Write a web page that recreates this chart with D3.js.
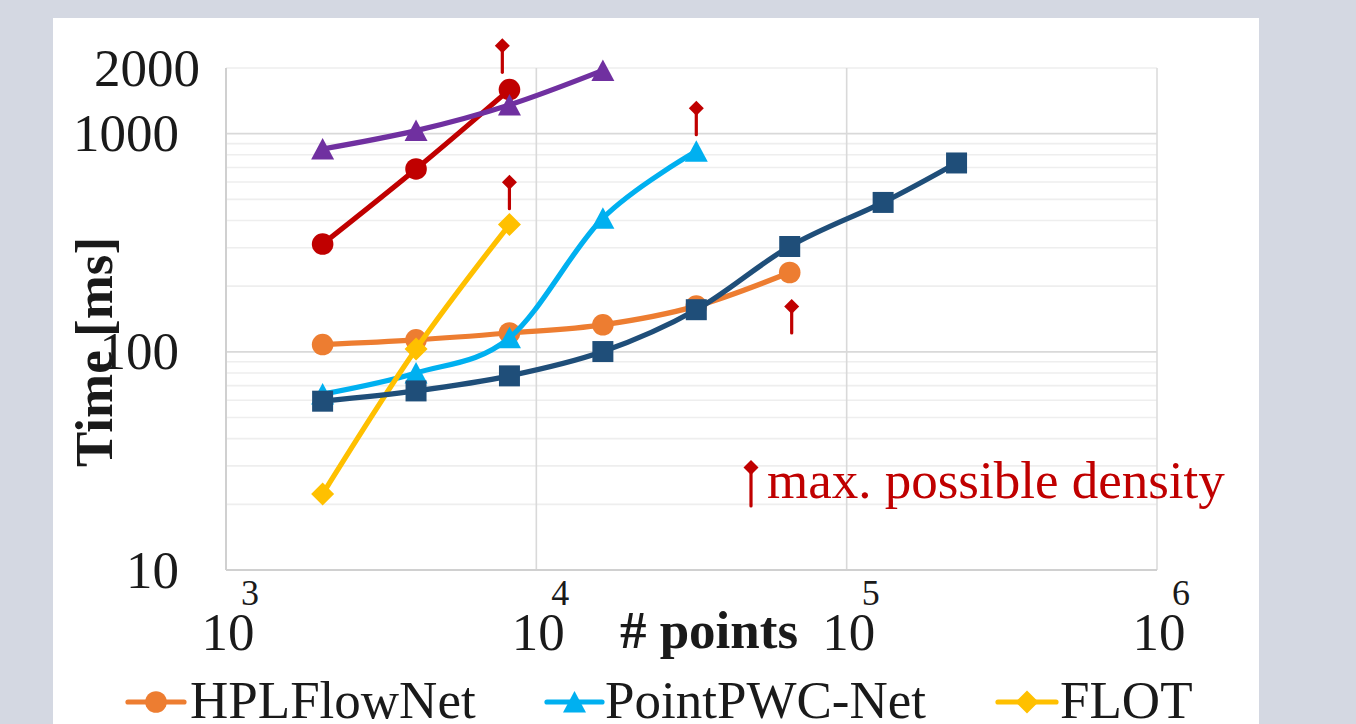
<!DOCTYPE html>
<html>
<head>
<meta charset="utf-8">
<script src="https://cdn.jsdelivr.net/npm/d3@7"></script>
<style>
  html, body { margin: 0; padding: 0; background: #d4d8e2; }
  svg { display: block; }
  text { font-family: "Liberation Serif", "Times New Roman", serif; }
</style>
</head>
<body>
<svg id="chart" width="1356" height="724"></svg>
<script>
// Number of points (x) shared by all runs
const pointCounts = [2048, 4096, 8192, 16384, 32768, 65536, 131072, 226000];

// Runtime in ms for each method, in the order of pointCounts
const hplflownetTimes = [108, 113.5, 122, 133, 162, 231];
const pointpwcTimes   = [64, 80, 116, 410, 830];
const flotTimes       = [22.3, 103, 383];
const redTimes        = [312, 689, 1592];
const purpleTimes     = [851, 1033, 1355, 1950];
const darkBlueTimes   = [59.4, 66.2, 77.6, 100.3, 156, 304, 484, 734];

// Upper bound markers: where a method runs out of memory ("max. possible density")
const limitCounts = [7770, 8190, 32768, 66500];
const limitTimes  = [1910, 453, 989, 122];

// Axis ticks
const yTickValues = [10, 100, 1000, 2000];
const xTickExponents = [3, 4, 5, 6];

const legendNames = ["HPLFlowNet", "PointPWC-Net", "FLOT"];

const series = [
  { name: legendNames[0], values: hplflownetTimes, color: "#ED7D31", marker: "circle" },
  { name: legendNames[1], values: pointpwcTimes,   color: "#00B0F0", marker: "triangle" },
  { name: legendNames[2], values: flotTimes,       color: "#FFC000", marker: "diamond" },
  { name: "red",        values: redTimes,        color: "#C00000", marker: "circle" },
  { name: "purple",     values: purpleTimes,     color: "#7030A0", marker: "triangle" },
  { name: "darkblue",   values: darkBlueTimes,   color: "#1F4E79", marker: "square" }
];

const svg = d3.select("#chart");
const TEXT = "#1a1a1a";
const RED = "#C00000";

// Page background and white chart panel
svg.append("rect").attr("width", 1356).attr("height", 724).attr("fill", "#d4d8e2");
svg.append("rect").attr("x", 53).attr("y", 18).attr("width", 1206).attr("height", 720).attr("fill", "#ffffff");

const x = d3.scaleLog().domain([1e3, 1e6]).range([226, 1157]);
const y = d3.scaleLog().domain([10, 2000]).range([570, 68]);

// Gridlines: minor horizontal lines first, then major ones
const g = svg.append("g");
const minorY = y.ticks().filter(v => ![10, 100, 1000].includes(v));
g.selectAll("line.minor").data(minorY).join("line")
  .attr("x1", x.range()[0]).attr("x2", x.range()[1])
  .attr("y1", d => y(d)).attr("y2", d => y(d))
  .attr("stroke", "#eeeeee").attr("stroke-width", 1.6);
g.selectAll("line.majorY").data([100, 1000]).join("line")
  .attr("x1", x.range()[0]).attr("x2", x.range()[1])
  .attr("y1", d => y(d)).attr("y2", d => y(d))
  .attr("stroke", "#d9d9d9").attr("stroke-width", 1.6);
g.selectAll("line.majorX").data([1e4, 1e5]).join("line")
  .attr("x1", d => x(d)).attr("x2", d => x(d))
  .attr("y1", y.range()[0]).attr("y2", y.range()[1])
  .attr("stroke", "#d9d9d9").attr("stroke-width", 1.6);
// Right border
g.append("line").attr("x1", x(1e6)).attr("x2", x(1e6)).attr("y1", y.range()[0]).attr("y2", y.range()[1])
  .attr("stroke", "#dcdcdc").attr("stroke-width", 1.6);
// Axis lines
g.append("line").attr("x1", x(1e3)).attr("x2", x(1e3)).attr("y1", y.range()[0]).attr("y2", y.range()[1])
  .attr("stroke", "#d0d0d0").attr("stroke-width", 2);
g.append("line").attr("x1", x(1e3)).attr("x2", x(1e6)).attr("y1", y(10)).attr("y2", y(10))
  .attr("stroke", "#d0d0d0").attr("stroke-width", 2);

// Y tick labels (the top one sits a little further right)
svg.append("g").selectAll("text").data(yTickValues).join("text")
  .attr("x", d => d === y.domain()[1] ? 200 : 179)
  .attr("y", d => y(d) + 17.5)
  .attr("text-anchor", "end")
  .attr("font-size", 53).attr("fill", TEXT)
  .text(d => d);

// X tick labels as powers of ten
const xl = svg.append("g");
xl.selectAll("text.base").data(xTickExponents).join("text")
  .attr("x", d => x(Math.pow(10, d)) + 2).attr("y", 650)
  .attr("text-anchor", "middle").attr("font-size", 53).attr("fill", TEXT)
  .text("10");
xl.selectAll("text.exp").data(xTickExponents).join("text")
  .attr("x", d => x(Math.pow(10, d)) + 24).attr("y", 605)
  .attr("text-anchor", "middle").attr("font-size", 36).attr("fill", TEXT)
  .text(d => d);

// Axis titles
svg.append("text").attr("x", 709).attr("y", 648).attr("text-anchor", "middle")
  .attr("font-size", 53).attr("font-weight", "bold").attr("fill", TEXT).text("# points");
svg.append("text").attr("transform", "translate(112,352) rotate(-90)").attr("text-anchor", "middle")
  .attr("font-size", 53).attr("font-weight", "bold").attr("fill", TEXT).text("Time [ms]");

// Marker shapes
function markerPath(type) {
  if (type === "circle") return d3.symbol().type(d3.symbolCircle).size(Math.PI * 10.8 * 10.8)();
  if (type === "square") return "M-10.5,-10.5H10.5V10.5H-10.5Z";
  if (type === "triangle") return "M0,-11L11.5,10.5L-11.5,10.5Z";
  if (type === "diamond") return "M0,-11.5L11.5,0L0,11.5L-11.5,0Z";
}

const line = d3.line()
  .x((d, i) => x(pointCounts[i]))
  .y(d => y(d))
  .curve(d3.curveCatmullRom.alpha(0));

const plot = svg.append("g");
series.forEach(s => {
  const sg = plot.append("g");
  sg.append("path").datum(s.values)
    .attr("d", line).attr("fill", "none")
    .attr("stroke", s.color).attr("stroke-width", 5.2)
    .attr("stroke-linejoin", "round").attr("stroke-linecap", "round");
  sg.selectAll("path.m").data(s.values).join("path")
    .attr("transform", (d, i) => `translate(${x(pointCounts[i])},${y(d)})`)
    .attr("d", markerPath(s.marker)).attr("fill", s.color);
});

// Upper-bound arrows: a small diamond head on a short stem
function arrow(parent, cx, bottom, length) {
  const a = parent.append("g").attr("transform", `translate(${cx},${bottom})`);
  a.append("line").attr("x1", 0).attr("x2", 0).attr("y1", 0).attr("y2", -length + 8)
    .attr("stroke", RED).attr("stroke-width", 3.2).attr("stroke-linecap", "round");
  a.append("path").attr("d", `M0,${-length}L7.5,${-length + 7.5}L0,${-length + 15}L-7.5,${-length + 7.5}Z`)
    .attr("fill", RED);
}
const arrows = svg.append("g");
limitCounts.forEach((n, i) => arrow(arrows, x(n), y(limitTimes[i]), 34));

// Annotation key for the arrows
arrow(svg, 751, 506, 46);
svg.append("text").attr("x", 767).attr("y", 498).attr("font-size", 53).attr("fill", RED)
  .text("max. possible density");

// Legend (first row)
const legendPos = [
  { line: [128, 184], text: 190 },
  { line: [547, 602], text: 605 },
  { line: [998, 1056], text: 1060 }
];
const lg = svg.append("g");
legendNames.forEach((name, i) => {
  const s = series[i], p = legendPos[i];
  lg.append("line").attr("x1", p.line[0]).attr("x2", p.line[1]).attr("y1", 702).attr("y2", 702)
    .attr("stroke", s.color).attr("stroke-width", 5.2).attr("stroke-linecap", "round");
  lg.append("path").attr("transform", `translate(${(p.line[0] + p.line[1]) / 2},702)`)
    .attr("d", markerPath(s.marker)).attr("fill", s.color);
  lg.append("text").attr("x", p.text).attr("y", 718).attr("font-size", 53).attr("fill", TEXT).text(name);
});
</script>
</body>
</html>
